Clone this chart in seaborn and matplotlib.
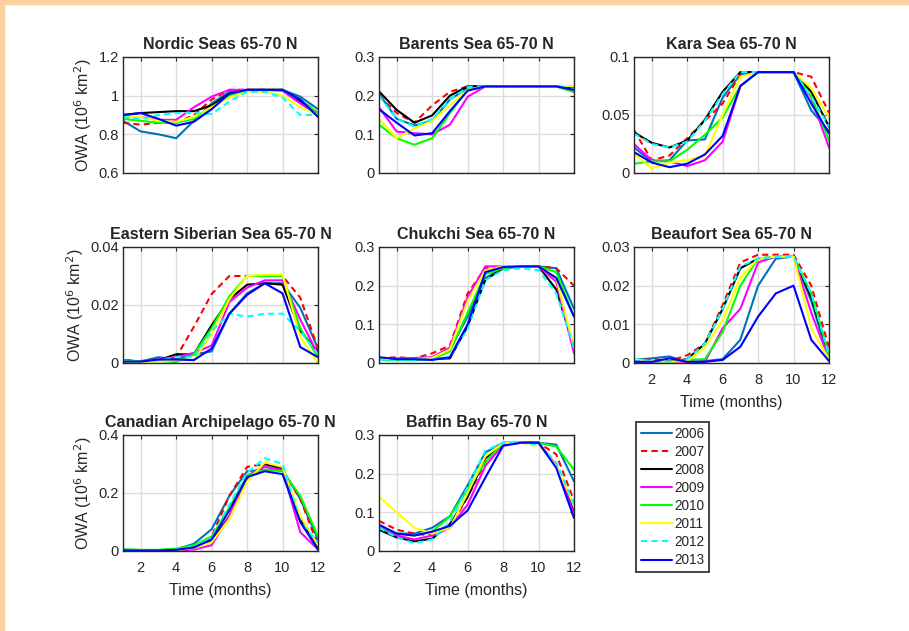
import numpy as np
import pandas as pd
import matplotlib
matplotlib.use("Agg")
import matplotlib.pyplot as plt
from matplotlib.ticker import FuncFormatter
import seaborn as sns

months = list(range(1, 13))
years = ["2006", "2007", "2008", "2009", "2010", "2011", "2012", "2013"]

nordic = {
    "2006": [0.87, 0.815, 0.80, 0.78, 0.87, 0.96, 1.02, 1.03, 1.03, 1.03, 0.995, 0.93],
    "2007": [0.86, 0.85, 0.86, 0.86, 0.90, 0.98, 1.03, 1.03, 1.03, 1.03, 0.98, 0.91],
    "2008": [0.90, 0.91, 0.915, 0.92, 0.92, 0.95, 1.01, 1.03, 1.03, 1.03, 0.97, 0.90],
    "2009": [0.89, 0.89, 0.875, 0.875, 0.94, 0.995, 1.03, 1.03, 1.03, 1.025, 0.96, 0.90],
    "2010": [0.88, 0.87, 0.86, 0.86, 0.88, 0.94, 1.00, 1.03, 1.03, 1.03, 0.98, 0.91],
    "2011": [0.89, 0.89, 0.87, 0.865, 0.89, 0.94, 0.99, 1.02, 1.02, 1.00, 0.94, 0.90],
    "2012": [0.89, 0.88, 0.90, 0.91, 0.91, 0.905, 0.97, 1.02, 1.02, 0.99, 0.90, 0.90],
    "2013": [0.90, 0.91, 0.88, 0.845, 0.865, 0.93, 1.01, 1.03, 1.03, 1.03, 0.98, 0.89],
}
barents = {
    "2006": [0.205, 0.14, 0.123, 0.135, 0.19, 0.22, 0.224, 0.224, 0.224, 0.224, 0.224, 0.215],
    "2007": [0.20, 0.155, 0.13, 0.175, 0.21, 0.224, 0.224, 0.224, 0.224, 0.224, 0.224, 0.22],
    "2008": [0.211, 0.163, 0.13, 0.149, 0.20, 0.224, 0.224, 0.224, 0.224, 0.224, 0.224, 0.22],
    "2009": [0.17, 0.107, 0.103, 0.10, 0.125, 0.197, 0.224, 0.224, 0.224, 0.224, 0.224, 0.21],
    "2010": [0.125, 0.09, 0.073, 0.09, 0.155, 0.215, 0.224, 0.224, 0.224, 0.224, 0.224, 0.21],
    "2011": [0.14, 0.09, 0.115, 0.135, 0.175, 0.215, 0.224, 0.224, 0.224, 0.224, 0.224, 0.225],
    "2012": [0.20, 0.14, 0.12, 0.14, 0.19, 0.222, 0.224, 0.224, 0.224, 0.224, 0.224, 0.218],
    "2013": [0.165, 0.13, 0.097, 0.103, 0.16, 0.213, 0.224, 0.224, 0.224, 0.224, 0.224, 0.215],
}
kara = {
    "2006": [0.022, 0.010, 0.011, 0.028, 0.029, 0.065, 0.085, 0.087, 0.087, 0.087, 0.054, 0.036],
    "2007": [0.037, 0.011, 0.015, 0.030, 0.045, 0.060, 0.085, 0.087, 0.087, 0.087, 0.083, 0.052],
    "2008": [0.035, 0.026, 0.022, 0.028, 0.046, 0.070, 0.087, 0.087, 0.087, 0.087, 0.070, 0.040],
    "2009": [0.025, 0.011, 0.010, 0.006, 0.011, 0.027, 0.075, 0.087, 0.087, 0.087, 0.065, 0.022],
    "2010": [0.008, 0.010, 0.010, 0.020, 0.033, 0.048, 0.075, 0.087, 0.087, 0.087, 0.066, 0.028],
    "2011": [0.017, 0.004, 0.009, 0.011, 0.015, 0.050, 0.083, 0.087, 0.087, 0.087, 0.073, 0.048],
    "2012": [0.034, 0.025, 0.022, 0.027, 0.045, 0.068, 0.087, 0.087, 0.087, 0.087, 0.066, 0.040],
    "2013": [0.018, 0.009, 0.005, 0.008, 0.016, 0.032, 0.075, 0.087, 0.087, 0.087, 0.060, 0.034],
}
e_siberian = {
    "2006": [0.001, 0.0005, 0.002, 0.0012, 0.003, 0.004, 0.017, 0.024, 0.0275, 0.0275, 0.019, 0.005],
    "2007": [0.001, 0.0005, 0.0007, 0.002, 0.0125, 0.0238, 0.030, 0.030, 0.030, 0.030, 0.0225, 0.005],
    "2008": [0.001, 0.0005, 0.001, 0.003, 0.003, 0.013, 0.022, 0.027, 0.0275, 0.027, 0.011, 0.004],
    "2009": [0.0005, 0.0007, 0.0012, 0.002, 0.0035, 0.006, 0.021, 0.026, 0.0285, 0.0285, 0.015, 0.003],
    "2010": [0.001, 0.0005, 0.0007, 0.0003, 0.003, 0.012, 0.023, 0.030, 0.030, 0.030, 0.012, 0.002],
    "2011": [0.0005, 0.0, 0.0005, 0.001, 0.001, 0.010, 0.022, 0.030, 0.0305, 0.0305, 0.009, 0.0],
    "2012": [0.0005, 0.0005, 0.001, 0.002, 0.002, 0.011, 0.017, 0.016, 0.017, 0.017, 0.011, 0.003],
    "2013": [0.0005, 0.0005, 0.0012, 0.0012, 0.001, 0.005, 0.017, 0.0235, 0.0275, 0.024, 0.0055, 0.002],
}
chukchi = {
    "2006": [0.012, 0.010, 0.010, 0.012, 0.035, 0.12, 0.22, 0.245, 0.25, 0.25, 0.245, 0.14],
    "2007": [0.012, 0.015, 0.012, 0.025, 0.045, 0.18, 0.245, 0.25, 0.25, 0.25, 0.245, 0.20],
    "2008": [0.010, 0.008, 0.008, 0.010, 0.012, 0.095, 0.215, 0.245, 0.25, 0.25, 0.19, 0.04],
    "2009": [0.010, 0.012, 0.013, 0.015, 0.040, 0.17, 0.25, 0.25, 0.25, 0.25, 0.21, 0.025],
    "2010": [0.008, 0.008, 0.008, 0.010, 0.030, 0.13, 0.23, 0.245, 0.25, 0.25, 0.235, 0.12],
    "2011": [0.010, 0.010, 0.010, 0.013, 0.035, 0.16, 0.24, 0.25, 0.25, 0.25, 0.22, 0.04],
    "2012": [0.008, 0.008, 0.008, 0.010, 0.015, 0.09, 0.215, 0.24, 0.245, 0.24, 0.18, 0.04],
    "2013": [0.015, 0.010, 0.010, 0.008, 0.015, 0.10, 0.235, 0.248, 0.25, 0.25, 0.22, 0.12],
}
beaufort = {
    "2006": [0.0008, 0.0012, 0.0017, 0.0003, 0.0005, 0.001, 0.006, 0.020, 0.027, 0.0275, 0.016, 0.001],
    "2007": [0.0005, 0.001, 0.0005, 0.002, 0.005, 0.015, 0.026, 0.028, 0.028, 0.028, 0.020, 0.004],
    "2008": [0.0005, 0.0003, 0.0003, 0.001, 0.005, 0.014, 0.0245, 0.027, 0.0275, 0.0275, 0.017, 0.002],
    "2009": [0.0005, 0.0003, 0.0003, 0.0003, 0.0003, 0.009, 0.014, 0.026, 0.0275, 0.0275, 0.013, 0.001],
    "2010": [0.0008, 0.0005, 0.0003, 0.0008, 0.001, 0.008, 0.020, 0.027, 0.0275, 0.0275, 0.018, 0.002],
    "2011": [0.0008, 0.0005, 0.0003, 0.0005, 0.004, 0.011, 0.022, 0.027, 0.0275, 0.0275, 0.009, 0.001],
    "2012": [0.0005, 0.0005, 0.0003, 0.001, 0.005, 0.014, 0.025, 0.027, 0.0275, 0.0275, 0.018, 0.002],
    "2013": [0.0003, 0.0003, 0.0012, 0.0003, 0.0003, 0.0008, 0.0042, 0.012, 0.018, 0.020, 0.006, 0.0005],
}
canadian = {
    "2006": [0.005, 0.003, 0.003, 0.005, 0.025, 0.075, 0.19, 0.275, 0.28, 0.28, 0.18, 0.04],
    "2007": [0.003, 0.003, 0.003, 0.004, 0.015, 0.05, 0.19, 0.29, 0.30, 0.28, 0.18, 0.02],
    "2008": [0.002, 0.002, 0.002, 0.003, 0.012, 0.035, 0.12, 0.25, 0.30, 0.285, 0.11, 0.01],
    "2009": [0.001, 0.001, 0.001, 0.001, 0.005, 0.02, 0.12, 0.26, 0.29, 0.28, 0.065, 0.005],
    "2010": [0.006, 0.004, 0.004, 0.008, 0.02, 0.05, 0.15, 0.26, 0.28, 0.275, 0.19, 0.05],
    "2011": [0.002, 0.002, 0.002, 0.003, 0.01, 0.03, 0.11, 0.24, 0.305, 0.29, 0.12, 0.02],
    "2012": [0.002, 0.002, 0.002, 0.004, 0.015, 0.045, 0.16, 0.27, 0.32, 0.30, 0.10, 0.03],
    "2013": [0.002, 0.002, 0.002, 0.004, 0.012, 0.04, 0.14, 0.255, 0.275, 0.265, 0.10, 0.005],
}
baffin = {
    "2006": [0.060, 0.045, 0.045, 0.060, 0.090, 0.17, 0.255, 0.28, 0.28, 0.28, 0.275, 0.18],
    "2007": [0.078, 0.055, 0.045, 0.040, 0.060, 0.14, 0.23, 0.28, 0.28, 0.28, 0.25, 0.13],
    "2008": [0.055, 0.035, 0.025, 0.032, 0.070, 0.14, 0.24, 0.275, 0.28, 0.28, 0.22, 0.10],
    "2009": [0.065, 0.040, 0.030, 0.040, 0.060, 0.12, 0.22, 0.275, 0.28, 0.28, 0.22, 0.095],
    "2010": [0.065, 0.045, 0.040, 0.050, 0.090, 0.16, 0.23, 0.28, 0.28, 0.28, 0.27, 0.21],
    "2011": [0.140, 0.100, 0.060, 0.045, 0.060, 0.15, 0.245, 0.28, 0.28, 0.275, 0.22, 0.12],
    "2012": [0.060, 0.035, 0.020, 0.030, 0.075, 0.165, 0.26, 0.28, 0.28, 0.275, 0.23, 0.12],
    "2013": [0.068, 0.045, 0.040, 0.050, 0.065, 0.105, 0.19, 0.272, 0.28, 0.28, 0.215, 0.085],
}

panels = [
    ("Nordic Seas 65-70 N", nordic, (0.6, 1.2), [0.6, 0.8, 1.0, 1.2]),
    ("Barents Sea 65-70 N", barents, (0, 0.3), [0, 0.1, 0.2, 0.3]),
    ("Kara Sea 65-70 N", kara, (0, 0.1), [0, 0.05, 0.1]),
    ("Eastern Siberian Sea 65-70 N", e_siberian, (0, 0.04), [0, 0.02, 0.04]),
    ("Chukchi Sea 65-70 N", chukchi, (0, 0.3), [0, 0.1, 0.2, 0.3]),
    ("Beaufort Sea 65-70 N", beaufort, (0, 0.03), [0, 0.01, 0.02, 0.03]),
    ("Canadian Archipelago 65-70 N", canadian, (0, 0.4), [0, 0.2, 0.4]),
    ("Baffin Bay 65-70 N", baffin, (0, 0.3), [0, 0.1, 0.2, 0.3]),
]

palette = {"2006": "#0072BD", "2007": "#FF0000", "2008": "#000000", "2009": "#FF00FF",
           "2010": "#00FF00", "2011": "#FFFF00", "2012": "#00FFFF", "2013": "#0000FF"}
dash_map = {y: "" for y in years}
dash_map["2007"] = (3, 2)
dash_map["2012"] = (3, 2)

sns.set_theme(style="whitegrid")
plt.rcParams.update({
    "font.family": ["Liberation Sans", "DejaVu Sans"],
    "axes.edgecolor": "#262626",
    "axes.linewidth": 1.0,
    "grid.color": "#dcdcdc",
    "grid.linewidth": 1.0,
    "xtick.direction": "in",
    "ytick.direction": "in",
    "xtick.top": True,
    "ytick.right": True,
    "xtick.major.size": 3,
    "ytick.major.size": 3,
    "xtick.major.width": 0.8,
    "ytick.major.width": 0.8,
    "xtick.color": "#262626",
    "ytick.color": "#262626",
    "text.color": "#262626",
    "axes.labelcolor": "#262626",
})

W, H = 909, 631
fig = plt.figure(figsize=(W / 100, H / 100), dpi=100)
fig.patch.set_facecolor("white")

# peach frame strips along the top and left edges
fig.add_artist(plt.Rectangle((0, 1 - 4 / H), 1, 4 / H, transform=fig.transFigure,
                             color="#FDD0A2", zorder=0))
fig.add_artist(plt.Rectangle((0, 0), 4 / W, 1, transform=fig.transFigure,
                             color="#FDD0A2", zorder=0))

col_left = [123, 379, 634]
row_top = [57, 247, 435]
ax_w, ax_h = 195, 116

handles = labels = None
for i, (title, data, ylim, yticks) in enumerate(panels):
    r, c = divmod(i, 3)
    x0, y0 = col_left[c], row_top[r]
    ax = fig.add_axes([x0 / W, 1 - (y0 + ax_h) / H, ax_w / W, ax_h / H])
    df = pd.DataFrame({
        "month": months * len(years),
        "owa": sum((data[y] for y in years), []),
        "year": np.repeat(years, len(months)),
    })
    sns.lineplot(data=df, x="month", y="owa", hue="year", style="year",
                 hue_order=years, style_order=years, palette=palette,
                 dashes=dash_map, linewidth=1.5, ax=ax, legend=(i == 0))
    if i == 0:
        handles, labels = ax.get_legend_handles_labels()
        ax.get_legend().remove()
    ax.set_xlim(1, 12)
    ax.set_ylim(*ylim)
    ax.set_xticks([2, 4, 6, 8, 10, 12])
    ax.set_yticks(yticks)
    ax.yaxis.set_major_formatter(FuncFormatter(lambda v, p: f"{v:g}"))
    ax.tick_params(axis="y", labelsize=10.5, pad=3)
    ax.tick_params(axis="x", labelsize=10.5, pad=7)
    ax.set_title(title, fontsize=11.5, fontweight="bold", pad=6)
    for s in ax.spines.values():
        s.set_visible(True)
        s.set_color("#262626")
    if c == 0:
        ax.set_ylabel("OWA (10$^6$ km$^2$)", fontsize=11.5, labelpad=3)
    else:
        ax.set_ylabel("")
    if i in (5, 6, 7):
        ax.set_xlabel("Time (months)", fontsize=11.5, labelpad=6)
    else:
        ax.set_xlabel("")
        ax.set_xticklabels([])

leg = fig.legend(handles, labels, loc="upper left",
                 bbox_to_anchor=(636 / W, 1 - 422 / H), fontsize=9.8,
                 handlelength=2.3, handletextpad=0.15, labelspacing=0.3,
                 borderpad=0.35, borderaxespad=0, fancybox=False, framealpha=1,
                 edgecolor="#262626")
leg.get_frame().set_linewidth(1.2)

fig.savefig("out.png", dpi=100)
